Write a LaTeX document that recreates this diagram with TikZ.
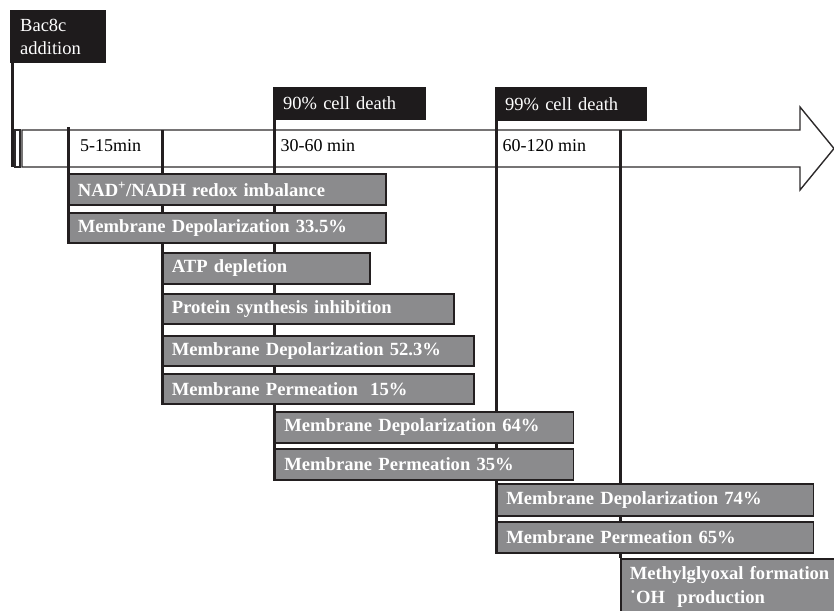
\documentclass[tikz,border=0pt]{standalone}
\usepackage{fontspec}
\setmainfont{Liberation Serif}
\definecolor{barfill}{RGB}{139,139,141}
\definecolor{edge}{RGB}{35,31,32}
\definecolor{hdrfill}{RGB}{30,27,28}
\definecolor{arrowc}{RGB}{45,42,43}
\pgfdeclarelayer{arrowlayer}
\pgfdeclarelayer{ticklayer}
\pgfsetlayers{arrowlayer,ticklayer,main}
\begin{document}
\begin{tikzpicture}[x=1pt,y=-1pt,
  bar/.style={draw=edge, line width=1.8pt, fill=barfill, text=white,
    font=\fontsize{18.6}{24}\selectfont\bfseries, anchor=north west,
    inner xsep=9pt, inner ysep=0pt, align=left},
  hdr/.style={fill=hdrfill, text=white, font=\fontsize{18.5}{22}\selectfont,
    anchor=north west, inner xsep=10pt, inner ysep=0pt, align=left},
  tick/.style={draw=edge, line width=3pt},
  tlabel/.style={font=\fontsize{18}{22}\selectfont, anchor=west, inner sep=0pt}]
\useasboundingbox (0,0) rectangle (834,610);
\clip (0,0) rectangle (834,610);

% timeline arrow
\begin{pgfonlayer}{arrowlayer}
\draw[line width=1.4pt, draw=arrowc, fill=white]
  (22,130) -- (800,130) -- (800,107) -- (834,148.5) -- (800,190) -- (800,167) -- (22,167) -- cycle;
\draw[line width=1.2pt, draw=arrowc] (15,130) rectangle (20,167);
\end{pgfonlayer}

% coordinates for the time marks
\coordinate (m0top) at (12,63);
\coordinate (m0bot) at (12,167);
\coordinate (m1) at (68,127);
\coordinate (m2) at (162,130);
\coordinate (m3) at (274.5,110);
\coordinate (m4) at (496.5,110);
\coordinate (m5) at (620,130);

% header boxes
\node[hdr, minimum width=96, minimum height=53, text width=76] (bac) at (10,10) {Bac8c\\[1pt]addition};
\node[hdr, minimum width=153, minimum height=33, text width=133] (d90) at (273,87) {90\% cell death};
\node[hdr, minimum width=152, minimum height=34, text width=132] (d99) at (495,87) {99\% cell death};

% time labels
\node[tlabel] (t1) at (80,146) {5-15min};
\node[tlabel] (t2) at (280.5,146) {30-60 min};
\node[tlabel] (t3) at (502.5,146) {60-120 min};

% bars
\node[bar, minimum width=317, minimum height=31, text width=299] (b1) at (68,173) {NAD\textsuperscript{+}/NADH redox imbalance};
\node[bar, minimum width=317, minimum height=30, text width=299] (b2) at (68,212) {Membrane Depolarization 33.5\%};
\node[bar, minimum width=207, minimum height=31, text width=189] (b3) at (162,252) {ATP depletion};
\node[bar, minimum width=291, minimum height=30, text width=273] (b4) at (162,293) {Protein synthesis inhibition};
\node[bar, minimum width=311, minimum height=30, text width=293] (b5) at (162,335) {Membrane Depolarization 52.3\%};
\node[bar, minimum width=311, minimum height=30, text width=293] (b6) at (162,373) {Membrane Permeation\ \ 15\%};
\node[bar, minimum width=298, minimum height=31, text width=280] (b7) at (274.5,411) {Membrane Depolarization 64\%};
\node[bar, minimum width=298, minimum height=31, text width=280] (b8) at (274.5,448) {Membrane Permeation 35\%};
\node[bar, minimum width=316, minimum height=32, text width=298] (b9) at (496.5,483) {Membrane Depolarization 74\%};
\node[bar, minimum width=316, minimum height=31, text width=298] (b10) at (496.5,521) {Membrane Permeation 65\%};
\node[bar, minimum width=240, text width=222, inner ysep=7pt] (b11) at (620,558) {Methylglyoxal formation\\˙OH\ \ production};

% vertical time marks (behind bars)
\begin{pgfonlayer}{ticklayer}
\draw[tick] (m0top) -- (m0bot);
\draw[tick] (m1) -- (m1 |- b2.south);
\draw[tick] (m2) -- (m2 |- b6.south);
\draw[tick] (m3) -- (m3 |- b8.south);
\draw[tick] (m4) -- (m4 |- b10.south);
\draw[tick] (m5) -- (m5 |- b11.north);
\end{pgfonlayer}
\end{tikzpicture}
\end{document}
